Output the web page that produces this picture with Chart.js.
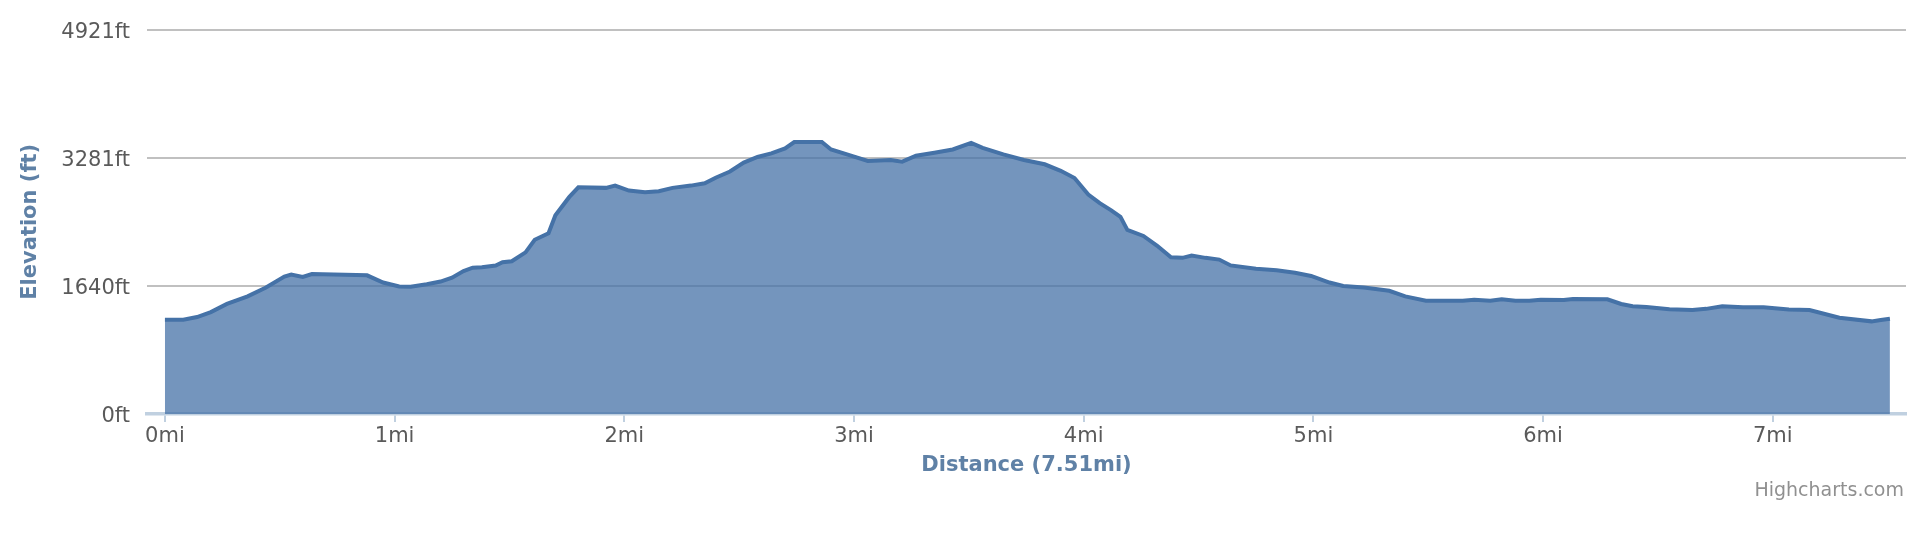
<!DOCTYPE html>
<html>
<head>
<meta charset="utf-8">
<title>Elevation profile</title>
<script src="https://cdn.jsdelivr.net/npm/chart.js@4/dist/chart.umd.min.js"></script>
<style>
    html, body { margin: 0; padding: 0; background: #fff; overflow: hidden; }
    canvas { display: block; }
</style>
</head>
<body>
<canvas id="elevationChart" width="1926" height="536"></canvas>
<script>
// --- Data ---
const distanceMi = [0, 0.08, 0.14, 0.20, 0.27, 0.36, 0.44, 0.52, 0.55, 0.60, 0.64, 0.88, 0.95, 1.02, 1.07, 1.14, 1.20, 1.25, 1.30, 1.34,
    1.38, 1.44, 1.47, 1.51, 1.57, 1.61, 1.67, 1.70, 1.76, 1.80, 1.92, 1.96, 2.02, 2.09, 2.15, 2.21, 2.29, 2.35, 2.40, 2.46,
    2.52, 2.58, 2.64, 2.70, 2.74, 2.86, 2.90, 2.98, 3.06, 3.16, 3.21, 3.27, 3.35, 3.43, 3.51, 3.56, 3.65, 3.74, 3.83, 3.90,
    3.96, 4.02, 4.07, 4.12, 4.16, 4.19, 4.26, 4.32, 4.38, 4.43, 4.47, 4.53, 4.59, 4.64, 4.75, 4.84, 4.92, 4.99, 5.07, 5.13,
    5.22, 5.33, 5.40, 5.49, 5.65, 5.70, 5.77, 5.82, 5.88, 5.94, 5.99, 6.09, 6.13, 6.28, 6.34, 6.39, 6.45, 6.55, 6.65, 6.71,
    6.78, 6.87, 6.96, 7.07, 7.16, 7.29, 7.43, 7.47, 7.51];
const elevationFt = [1207, 1207, 1241, 1304, 1409, 1506, 1620, 1759, 1784, 1754, 1792, 1775, 1683, 1632, 1628, 1662, 1696, 1746, 1830, 1873,
    1880, 1901, 1943, 1956, 2070, 2230, 2314, 2545, 2776, 2902, 2895, 2924, 2861, 2839, 2852, 2895, 2924, 2953, 3028, 3104,
    3218, 3290, 3336, 3399, 3482, 3482, 3387, 3315, 3239, 3252, 3230, 3306, 3344, 3387, 3470, 3407, 3323, 3252, 3197, 3113,
    3021, 2810, 2700, 2608, 2524, 2356, 2280, 2154, 2006, 1999, 2028, 1999, 1977, 1902, 1860, 1839, 1809, 1767, 1683, 1640,
    1620, 1577, 1506, 1451, 1451, 1464, 1451, 1468, 1451, 1451, 1464, 1460, 1472, 1468, 1409, 1380, 1371, 1342, 1333, 1346,
    1380, 1367, 1367, 1338, 1330, 1233, 1186, 1204, 1220];
const xTicksMi = [0, 1, 2, 3, 4, 5, 6, 7];
const yTicksFt = [0, 1640.42, 3280.84, 4921.26];
const totalDistance = '7.51mi';

const FONT = "'DejaVu Sans', 'Lucida Grande', Verdana, sans-serif";
const TITLE_COLOR = '#5F81A6';
const LABEL_COLOR = '#5A5A5A';

// Highcharts-style credit in the bottom right corner
const creditPlugin = {
    id: 'credit',
    afterDraw(chart) {
        const ctx = chart.ctx;
        ctx.save();
        ctx.font = '19px ' + FONT;
        ctx.fillStyle = '#909090';
        ctx.textAlign = 'right';
        ctx.textBaseline = 'middle';
        ctx.fillText('Highcharts.com', chart.width - 22, 491);
        ctx.restore();
    }
};

new Chart(document.getElementById('elevationChart').getContext('2d'), {
    type: 'line',
    data: {
        datasets: [{
            label: 'Elevation',
            data: distanceMi.map((d, i) => ({ x: d, y: elevationFt[i] })),
            fill: 'origin',
            backgroundColor: 'rgba(69, 114, 167, 0.75)',
            borderColor: '#4572A7',
            borderWidth: 4,
            pointRadius: 0,
            tension: 0
        }]
    },
    options: {
        responsive: false,
        animation: false,
        layout: { padding: { left: 0, right: 20, top: 27, bottom: 0 } },
        plugins: { legend: { display: false }, tooltip: { enabled: false } },
        scales: {
            x: {
                type: 'linear',
                min: -0.078,
                max: 7.58,
                afterBuildTicks: (scale) => { scale.ticks = xTicksMi.map(v => ({ value: v })); },
                afterFit: (scale) => { scale.height = 122; },
                border: { display: true, color: '#C0D0E0', width: 3.5 },
                grid: { drawOnChartArea: false, drawTicks: true, tickLength: 8, color: '#C0D0E0', lineWidth: 2 },
                ticks: {
                    color: LABEL_COLOR,
                    font: { family: FONT, size: 21 },
                    padding: 2,
                    maxRotation: 0,
                    callback: (v) => v + 'mi'
                },
                title: {
                    display: true,
                    text: 'Distance (' + totalDistance + ')',
                    color: TITLE_COLOR,
                    font: { family: FONT, size: 21, weight: 'bold' },
                    padding: { top: 0, bottom: 58 }
                }
            },
            y: {
                min: 0,
                max: yTicksFt[yTicksFt.length - 1],
                afterBuildTicks: (scale) => { scale.ticks = yTicksFt.map(v => ({ value: v })); },
                afterFit: (scale) => { scale.width = 147; },
                border: { display: false },
                grid: { color: '#C0C0C0', lineWidth: 2, drawTicks: false },
                ticks: {
                    color: LABEL_COLOR,
                    font: { family: FONT, size: 21 },
                    padding: 17,
                    labelOffset: 3,
                    callback: (v) => Math.round(v) + 'ft'
                },
                title: {
                    display: true,
                    text: 'Elevation (ft)',
                    color: TITLE_COLOR,
                    font: { family: FONT, size: 21, weight: 'bold' },
                    padding: { top: 18, bottom: 0 }
                }
            }
        }
    },
    plugins: [creditPlugin]
});
</script>
</body>
</html>
